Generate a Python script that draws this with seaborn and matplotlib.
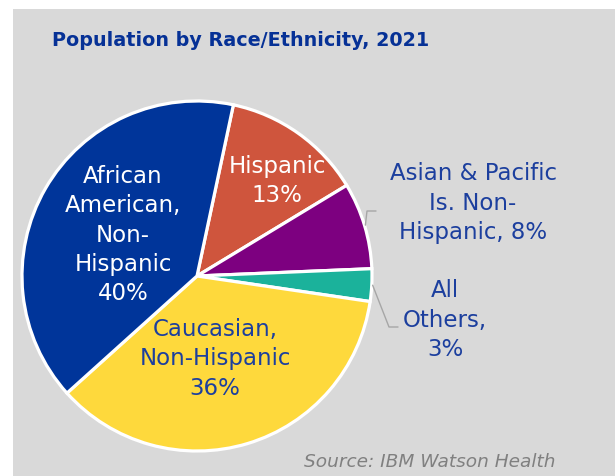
import matplotlib
matplotlib.use("Agg")
import matplotlib.pyplot as plt
import numpy as np
import seaborn as sns
from matplotlib.patches import Rectangle

sns.set_style("white")
plt.rcParams['font.family'] = ['DejaVu Sans']

# Data
categories = ["Hispanic", "Asian & Pacific Is. Non-Hispanic", "All Others",
              "Caucasian, Non-Hispanic", "African American, Non-Hispanic"]
shares = [13, 8, 3, 36, 40]
colors = sns.color_palette(["#cf553d", "#7d0080", "#1bb29b", "#fed93c", "#00359a"])

W, H = 615, 476
fig = plt.figure(figsize=(W / 100, H / 100), dpi=100)
fig.patch.set_facecolor("white")

ax = fig.add_axes([0, 0, 1, 1])
ax.set_facecolor("none")

cx, cy, r = 197, H - 276, 175
wedges, _ = ax.pie(shares, colors=colors, startangle=78, counterclock=False,
                   center=(cx, cy), radius=r,
                   wedgeprops=dict(edgecolor="white", linewidth=2.3))
ax.set_xlim(0, W)
ax.set_ylim(0, H)
ax.axis("off")

# Grey panel behind the chart
ax.add_patch(Rectangle((13, 0), W - 13, H - 9, facecolor="#d9d9d9",
                       edgecolor="none", zorder=-5))

label_blue = "#1c3f9e"
fs = 16.5
ls = 1.36

def px(x, y):
    return x, H - y

ax.text(*px(123, 235), "African\nAmerican,\nNon-\nHispanic\n40%", color="white",
        fontsize=fs, ha="center", va="center", linespacing=ls)
ax.text(*px(277, 181), "Hispanic\n13%", color="white",
        fontsize=fs, ha="center", va="center", linespacing=ls)
ax.text(*px(215, 359), "Caucasian,\nNon-Hispanic\n36%", color=label_blue,
        fontsize=fs, ha="center", va="center", linespacing=ls)
ax.text(*px(473, 203), "Asian & Pacific\nIs. Non-\nHispanic, 8%", color=label_blue,
        fontsize=fs, ha="center", va="center", linespacing=ls)
ax.text(*px(445, 320), "All\nOthers,\n3%", color=label_blue,
        fontsize=fs, ha="center", va="center", linespacing=ls)

# Leader lines from the small wedges to their outside labels
def edge_point(w, frac=1.005):
    mid = np.deg2rad((w.theta1 + w.theta2) / 2)
    return cx + r * frac * np.cos(mid), cy + r * frac * np.sin(mid)

x0, y0 = edge_point(wedges[1])
ax.plot([x0, 367, 376], [y0, H - 211, H - 211], color="#a6a6a6", lw=1.0)
x0, y0 = edge_point(wedges[2])
ax.plot([x0, 389, 398], [y0, H - 327, H - 327], color="#a6a6a6", lw=1.0)

ax.text(*px(241, 40), "Population by Race/Ethnicity, 2021", color="#063196",
        fontsize=13.8, fontweight="bold", ha="center", va="center")
ax.text(*px(430, 462), "Source: IBM Watson Health", color="#808080",
        fontsize=13.3, style="italic", ha="center", va="center")

fig.savefig("out.png", dpi=100)
